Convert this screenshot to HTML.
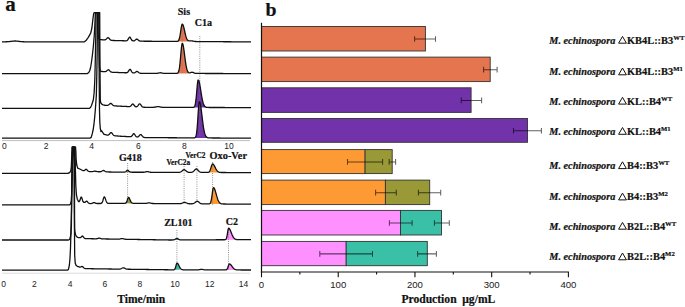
<!DOCTYPE html>
<html><head><meta charset="utf-8"><style>
html,body{margin:0;padding:0;background:#fff;}
svg{display:block;}
</style></head><body>
<svg width="685" height="307" viewBox="0 0 685 307">
<rect width="685" height="307" fill="#fff"/>
<line x1="2" y1="140.6" x2="250" y2="140.6" stroke="#c0c0c0" stroke-width="1"/>
<line x1="2" y1="273.2" x2="250" y2="273.2" stroke="#dadada" stroke-width="1"/>
<polygon points="177.50,41.29 178.00,41.07 178.50,40.58 179.00,39.64 179.50,38.05 180.00,35.67 180.50,32.59 181.00,29.22 181.50,26.23 182.00,24.39 182.50,24.13 183.00,24.86 183.50,26.29 184.00,28.24 184.50,30.46 185.00,32.74 185.50,34.86 186.00,36.69 186.50,38.15 187.00,39.24 187.50,40.00 188.00,40.47 188.50,40.73 188.50,41.51 177.50,41.44" fill="#E4754E"/>
<polygon points="177.50,73.15 178.00,72.76 178.50,71.91 179.00,70.27 179.50,67.50 180.00,63.36 180.50,58.02 181.00,52.17 181.50,46.98 182.00,43.77 182.50,43.33 183.00,44.58 183.50,47.06 184.00,50.44 184.50,54.31 185.00,58.26 185.50,61.95 186.00,65.14 186.50,67.72 187.00,69.67 187.50,71.06 188.00,71.98 188.50,72.52 188.50,73.43 177.50,73.40" fill="#E4754E"/>
<polygon points="194.00,107.13 194.50,106.60 195.00,105.42 195.50,103.16 196.00,99.44 196.50,94.29 197.00,88.40 197.50,83.18 198.00,80.23 198.50,80.13 199.00,81.22 199.50,83.19 200.00,85.82 200.50,88.86 201.00,92.06 201.50,95.17 202.00,98.01 202.50,100.46 203.00,102.46 203.50,104.02 204.00,105.18 204.50,106.01 205.00,106.57 205.50,106.94 206.00,107.17 206.50,107.31 206.50,107.47 194.00,107.44" fill="#7232AA"/>
<polygon points="195.00,137.62 195.50,137.13 196.00,135.98 196.50,133.64 197.00,129.54 197.50,123.44 198.00,115.88 198.50,108.38 199.00,103.05 199.50,101.63 200.00,102.56 200.50,104.72 201.00,107.88 201.50,111.72 202.00,115.90 202.50,120.09 203.00,124.01 203.50,127.46 204.00,130.34 204.50,132.63 205.00,134.37 205.50,135.62 206.00,136.50 206.50,137.07 207.00,137.44 207.50,137.67 207.50,137.95 195.00,137.88" fill="#7232AA"/>
<polygon points="125.50,171.78 126.00,171.40 126.50,170.91 127.00,170.46 127.50,170.23 128.00,170.33 128.50,170.72 129.00,171.21 129.50,171.66 129.80,172.23 125.50,172.22" fill="#999937"/>
<polygon points="126.00,202.89 126.50,202.20 127.00,200.98 127.50,199.38 128.00,197.94 128.50,197.36 129.00,197.69 129.50,198.56 130.00,199.73 130.50,200.91 131.00,201.88 131.50,202.57 131.50,203.38 125.80,203.34" fill="#999937"/>
<polygon points="209.00,171.99 209.50,171.47 210.00,170.58 210.50,169.29 211.00,167.67 211.50,165.98 212.00,164.63 212.50,164.00 213.00,164.09 213.50,164.52 214.00,165.22 214.50,166.12 215.00,167.13 215.50,168.15 216.00,169.12 216.50,169.98 217.00,170.69 217.50,171.25 218.00,171.67 218.50,171.98 218.50,172.50 208.80,172.47" fill="#FE9A33"/>
<polygon points="209.00,203.87 209.50,203.77 210.00,203.48 210.50,202.78 211.00,201.36 211.50,198.94 212.00,195.56 212.50,191.81 213.00,188.80 213.50,187.64 214.00,187.92 214.50,188.73 215.00,189.98 215.50,191.57 216.00,193.34 216.50,195.17 217.00,196.93 217.50,198.53 218.00,199.91 218.50,201.04 219.00,201.93 219.50,202.60 220.00,203.09 220.50,203.42 221.00,203.65 221.50,203.80 221.50,204.00 209.00,203.91" fill="#FE9A33"/>
<polygon points="174.50,239.56 175.00,239.30 175.50,239.00 176.00,238.72 176.50,238.52 177.00,238.47 177.50,238.58 178.00,238.81 178.50,239.11 179.00,239.39 179.50,239.62 179.50,239.95 174.50,239.98" fill="#3BC0A8"/>
<polygon points="174.50,269.51 175.00,268.89 175.50,267.61 176.00,265.69 176.50,263.82 177.00,263.02 177.50,263.23 178.00,263.82 178.50,264.69 179.00,265.70 179.50,266.71 180.00,267.62 180.50,268.36 180.50,269.83 174.30,269.81" fill="#3BC0A8"/>
<polygon points="224.50,239.73 225.00,239.70 225.50,239.58 226.00,239.19 226.50,238.16 227.00,236.12 227.50,233.07 228.00,229.95 228.50,228.26 229.00,228.33 229.50,228.83 230.00,229.65 230.50,230.72 231.00,231.95 231.50,233.24 232.00,234.49 232.50,235.64 233.00,236.64 233.50,237.47 234.00,238.13 234.50,238.63 235.00,238.99 235.50,239.24 236.00,239.41 236.00,239.67 224.50,239.73" fill="#FF90FF"/>
<polygon points="225.50,269.92 226.00,269.86 226.50,269.69 227.00,269.26 227.50,268.41 228.00,267.08 228.50,265.53 229.00,264.30 229.50,263.95 230.00,264.11 230.50,264.46 231.00,264.99 231.50,265.62 232.00,266.31 232.50,267.01 233.00,267.65 233.50,268.23 234.00,268.70 234.50,269.08 235.00,269.37 235.50,269.58 236.00,269.72 236.00,269.96 225.30,269.94" fill="#FF90FF"/>
<line x1="199.8" y1="36" x2="199.8" y2="137" stroke="#777" stroke-width="0.8" stroke-dasharray="1,1.2"/>
<line x1="182.2" y1="26" x2="182.2" y2="73" stroke="#777" stroke-width="0.8" stroke-dasharray="1,1.2"/>
<line x1="127.6" y1="163" x2="127.6" y2="203" stroke="#777" stroke-width="0.8" stroke-dasharray="1,1.2"/>
<line x1="184.1" y1="166" x2="184.1" y2="204" stroke="#777" stroke-width="0.8" stroke-dasharray="1,1.2"/>
<line x1="196.9" y1="166" x2="196.9" y2="203.5" stroke="#777" stroke-width="0.8" stroke-dasharray="1,1.2"/>
<line x1="212.6" y1="162" x2="212.6" y2="205" stroke="#777" stroke-width="0.8" stroke-dasharray="1,1.2"/>
<line x1="176.9" y1="230" x2="176.9" y2="270" stroke="#777" stroke-width="0.8" stroke-dasharray="1,1.2"/>
<line x1="228.5" y1="230" x2="228.5" y2="270" stroke="#777" stroke-width="0.8" stroke-dasharray="1,1.2"/>
<defs><clipPath id="cu"><rect x="0" y="12.0" width="260" height="130"/></clipPath><clipPath id="cl"><rect x="0" y="146.2" width="260" height="130"/></clipPath></defs>
<polyline clip-path="url(#cu)" points="2.00,41.80 2.50,41.80 3.00,41.80 3.50,41.80 4.00,41.79 4.50,41.79 5.00,41.79 5.50,41.78 6.00,41.77 6.50,41.76 7.00,41.74 7.50,41.72 8.00,41.69 8.50,41.66 9.00,41.62 9.50,41.57 10.00,41.51 10.50,41.45 11.00,41.38 11.50,41.31 12.00,41.25 12.50,41.18 13.00,41.12 13.50,41.07 14.00,41.03 14.50,41.01 15.00,41.00 15.50,41.01 16.00,41.03 16.50,41.07 17.00,41.12 17.50,41.18 18.00,41.25 18.50,41.31 19.00,41.38 19.50,41.45 20.00,41.51 20.50,41.57 21.00,41.62 21.50,41.66 22.00,41.69 22.50,41.72 23.00,41.74 23.50,41.76 24.00,41.77 24.50,41.78 25.00,41.79 25.50,41.79 26.00,41.79 26.50,41.80 27.00,41.80 27.50,41.80 28.00,41.80 28.50,41.80 29.00,41.80 29.50,41.80 30.00,41.80 30.50,41.80 31.00,41.80 31.50,41.80 32.00,41.80 32.50,41.80 33.00,41.80 33.50,41.80 34.00,41.80 34.50,41.80 35.00,41.80 35.50,41.80 36.00,41.80 36.50,41.80 37.00,41.80 37.50,41.80 38.00,41.80 38.50,41.80 39.00,41.80 39.50,41.80 40.00,41.80 40.50,41.80 41.00,41.80 41.50,41.80 42.00,41.80 42.50,41.80 43.00,41.80 43.50,41.80 44.00,41.80 44.50,41.80 45.00,41.80 45.50,41.80 46.00,41.80 46.50,41.80 47.00,41.80 47.50,41.80 48.00,41.80 48.50,41.80 49.00,41.80 49.50,41.80 50.00,41.80 50.50,41.80 51.00,41.80 51.50,41.80 52.00,41.80 52.50,41.80 53.00,41.80 53.50,41.80 54.00,41.80 54.50,41.80 55.00,41.80 55.50,41.80 56.00,41.80 56.50,41.80 57.00,41.80 57.50,41.80 58.00,41.80 58.50,41.80 59.00,41.80 59.50,41.80 60.00,41.80 60.50,41.80 61.00,41.80 61.50,41.80 62.00,41.80 62.50,41.80 63.00,41.80 63.50,41.80 64.00,41.80 64.50,41.80 65.00,41.80 65.50,41.80 66.00,41.80 66.50,41.80 67.00,41.80 67.50,41.80 68.00,41.80 68.50,41.80 69.00,41.80 69.50,41.80 70.00,41.80 70.50,41.80 71.00,41.80 71.50,41.80 72.00,41.80 72.50,41.80 73.00,41.80 73.50,41.80 74.00,41.80 74.50,41.80 75.00,41.80 75.50,41.80 76.00,41.80 76.50,41.80 77.00,41.80 77.50,41.80 78.00,41.80 78.50,41.80 79.00,41.80 79.50,41.80 80.00,41.80 80.50,41.80 81.00,41.80 81.50,41.80 82.00,41.80 82.50,41.80 83.00,41.80 83.50,41.80 84.00,41.80 84.50,41.80 86.00,40.60 88.30,37.30 90.70,33.20 91.90,28.00 92.80,20.00 93.60,14.00 94.20,12.60 97.60,12.60 97.80,30.00 98.20,37.50 99.20,39.20 99.50,39.54 100.00,39.58 100.50,39.62 101.00,39.66 101.50,39.70 102.00,39.75 102.50,39.79 103.00,39.83 103.50,39.86 104.00,39.89 104.50,39.89 105.00,39.84 105.50,39.68 106.00,39.37 106.50,38.89 107.00,38.34 107.50,37.86 108.00,37.64 108.50,37.80 109.00,38.27 109.50,38.90 110.00,39.51 110.50,39.94 111.00,40.21 111.50,40.35 112.00,40.42 112.50,40.46 113.00,40.48 113.50,40.49 114.00,40.51 114.50,40.52 115.00,40.53 115.50,40.55 116.00,40.56 116.50,40.57 117.00,40.59 117.50,40.60 118.00,40.61 118.50,40.63 119.00,40.64 119.50,40.65 120.00,40.67 120.50,40.68 121.00,40.69 121.50,40.71 122.00,40.72 122.50,40.73 123.00,40.75 123.50,40.76 124.00,40.77 124.50,40.79 125.00,40.80 125.50,40.81 126.00,40.79 126.50,40.73 127.00,40.55 127.50,40.16 128.00,39.49 128.50,38.59 129.00,37.70 129.50,37.17 130.00,37.25 130.50,37.90 131.00,38.85 131.50,39.74 132.00,40.38 132.50,40.74 133.00,40.90 133.50,40.92 134.00,40.84 134.50,40.63 135.00,40.30 135.50,39.87 136.00,39.44 136.50,39.16 137.00,39.14 137.50,39.40 138.00,39.84 138.50,40.31 139.00,40.70 139.50,40.96 140.00,41.10 140.50,41.17 141.00,41.20 141.50,41.21 142.00,41.21 142.50,41.22 143.00,41.22 143.50,41.22 144.00,41.23 144.50,41.23 145.00,41.23 145.50,41.23 146.00,41.24 146.50,41.24 147.00,41.24 147.50,41.25 148.00,41.25 148.50,41.25 149.00,41.26 149.50,41.26 150.00,41.26 150.50,41.27 151.00,41.27 151.50,41.27 152.00,41.28 152.50,41.28 153.00,41.28 153.50,41.29 154.00,41.29 154.50,41.29 155.00,41.29 155.50,41.30 156.00,41.30 156.50,41.30 157.00,41.31 157.50,41.31 158.00,41.31 158.50,41.32 159.00,41.32 159.50,41.32 160.00,41.33 160.50,41.33 161.00,41.33 161.50,41.34 162.00,41.34 162.50,41.34 163.00,41.35 163.50,41.35 164.00,41.35 164.50,41.35 165.00,41.36 165.50,41.36 166.00,41.36 166.50,41.37 167.00,41.37 167.50,41.37 168.00,41.38 168.50,41.38 169.00,41.38 169.50,41.39 170.00,41.39 170.50,41.39 171.00,41.40 171.50,41.40 172.00,41.40 172.50,41.40 173.00,41.41 173.50,41.41 174.00,41.41 174.50,41.42 175.00,41.42 175.50,41.42 176.00,41.42 176.50,41.41 177.00,41.38 177.50,41.29 178.00,41.07 178.50,40.58 179.00,39.64 179.50,38.05 180.00,35.67 180.50,32.59 181.00,29.22 181.50,26.23 182.00,24.39 182.50,24.13 183.00,24.86 183.50,26.29 184.00,28.24 184.50,30.46 185.00,32.74 185.50,34.86 186.00,36.69 186.50,38.15 187.00,39.24 187.50,40.00 188.00,40.47 188.50,40.73 189.00,40.83 189.50,40.85 190.00,40.83 190.50,40.81 191.00,40.81 191.50,40.84 192.00,40.91 192.50,41.00 193.00,41.11 193.50,41.22 194.00,41.31 194.50,41.39 195.00,41.45 195.50,41.49 196.00,41.52 196.50,41.54 197.00,41.55 197.50,41.56 198.00,41.56 198.50,41.57 199.00,41.57 199.50,41.58 200.00,41.58 200.50,41.58 201.00,41.58 201.50,41.59 202.00,41.59 202.50,41.59 203.00,41.60 203.50,41.60 204.00,41.60 204.50,41.61 205.00,41.61 205.50,41.61 206.00,41.62 206.50,41.62 207.00,41.62 207.50,41.63 208.00,41.63 208.50,41.63 209.00,41.64 209.50,41.64 210.00,41.64 210.50,41.64 211.00,41.65 211.50,41.65 212.00,41.65 212.50,41.66 213.00,41.66 213.50,41.66 214.00,41.67 214.50,41.67 215.00,41.67 215.50,41.68 216.00,41.68 216.50,41.68 217.00,41.69 217.50,41.69 218.00,41.69 218.50,41.70 219.00,41.70 219.50,41.70 220.00,41.70 220.50,41.71 221.00,41.71 221.50,41.71 222.00,41.72 222.50,41.72 223.00,41.72 223.50,41.73 224.00,41.73 224.50,41.73 225.00,41.74 225.50,41.74 226.00,41.74 226.50,41.75 227.00,41.75 227.50,41.75 228.00,41.75 228.50,41.76 229.00,41.76 229.50,41.76 230.00,41.77 230.50,41.77 231.00,41.77 231.50,41.78 232.00,41.78 232.50,41.78 233.00,41.79 233.50,41.79 234.00,41.79 234.50,41.80 235.00,41.80 235.50,41.80 236.00,41.81 236.50,41.81 237.00,41.81 237.50,41.81 238.00,41.82 238.50,41.82 239.00,41.82 239.50,41.83 240.00,41.83 240.50,41.83 241.00,41.84 241.50,41.84 242.00,41.84 242.50,41.85 243.00,41.85 243.50,41.85 244.00,41.86 244.50,41.86 245.00,41.86 245.50,41.87 246.00,41.87 246.50,41.87 247.00,41.87 247.50,41.88 248.00,41.88 248.50,41.88 249.00,41.89 249.50,41.89 250.00,41.89 250.50,41.90 251.00,41.90" fill="none" stroke="#111" stroke-width="1.3" stroke-linejoin="round"/>
<polyline clip-path="url(#cu)" points="2.00,73.60 2.50,73.60 3.00,73.60 3.50,73.60 4.00,73.60 4.50,73.60 5.00,73.60 5.50,73.60 6.00,73.60 6.50,73.60 7.00,73.60 7.50,73.60 8.00,73.60 8.50,73.60 9.00,73.60 9.50,73.60 10.00,73.60 10.50,73.60 11.00,73.60 11.50,73.60 12.00,73.60 12.50,73.60 13.00,73.60 13.50,73.60 14.00,73.60 14.50,73.60 15.00,73.60 15.50,73.60 16.00,73.60 16.50,73.60 17.00,73.60 17.50,73.60 18.00,73.60 18.50,73.60 19.00,73.60 19.50,73.60 20.00,73.60 20.50,73.60 21.00,73.60 21.50,73.60 22.00,73.60 22.50,73.60 23.00,73.60 23.50,73.60 24.00,73.60 24.50,73.60 25.00,73.60 25.50,73.60 26.00,73.60 26.50,73.60 27.00,73.60 27.50,73.60 28.00,73.60 28.50,73.60 29.00,73.60 29.50,73.60 30.00,73.60 30.50,73.60 31.00,73.60 31.50,73.60 32.00,73.60 32.50,73.60 33.00,73.60 33.50,73.60 34.00,73.60 34.50,73.60 35.00,73.60 35.50,73.60 36.00,73.60 36.50,73.60 37.00,73.60 37.50,73.60 38.00,73.60 38.50,73.60 39.00,73.60 39.50,73.60 40.00,73.60 40.50,73.60 41.00,73.60 41.50,73.60 42.00,73.60 42.50,73.60 43.00,73.60 43.50,73.60 44.00,73.60 44.50,73.60 45.00,73.60 45.50,73.60 46.00,73.60 46.50,73.60 47.00,73.60 47.50,73.60 48.00,73.60 48.50,73.60 49.00,73.60 49.50,73.60 50.00,73.60 50.50,73.60 51.00,73.60 51.50,73.60 52.00,73.60 52.50,73.60 53.00,73.60 53.50,73.60 54.00,73.60 54.50,73.60 55.00,73.60 55.50,73.60 56.00,73.60 56.50,73.60 57.00,73.60 57.50,73.60 58.00,73.60 58.50,73.60 59.00,73.60 59.50,73.60 60.00,73.60 60.50,73.60 61.00,73.60 61.50,73.60 62.00,73.60 62.50,73.60 63.00,73.60 63.50,73.60 64.00,73.60 64.50,73.60 65.00,73.60 65.50,73.60 66.00,73.60 66.50,73.60 67.00,73.60 67.50,73.60 68.00,73.60 68.50,73.60 69.00,73.60 69.50,73.60 70.00,73.60 70.50,73.60 71.00,73.60 71.50,73.60 72.00,73.60 72.50,73.60 73.00,73.60 73.50,73.60 74.00,73.60 74.50,73.60 75.00,73.60 75.50,73.60 76.00,73.60 76.50,73.60 77.00,73.60 77.50,73.60 78.00,73.60 78.50,73.60 79.00,73.60 79.50,73.60 80.00,73.60 80.50,73.60 81.00,73.60 81.50,73.60 82.00,73.60 82.50,73.60 83.00,73.60 83.50,73.60 84.00,73.60 84.50,73.60 85.00,73.60 85.50,73.60 86.00,73.60 86.50,73.60 87.00,73.60 87.20,73.60 88.50,72.80 89.60,71.00 90.60,67.50 91.50,62.00 92.40,55.00 93.30,47.00 94.30,35.00 95.00,22.00 95.40,12.60 99.00,12.60 99.20,50.00 99.50,67.00 100.20,70.50 100.50,71.34 101.00,71.39 101.50,71.43 102.00,71.48 102.50,71.52 103.00,71.57 103.50,71.61 104.00,71.65 104.50,71.68 105.00,71.67 105.50,71.60 106.00,71.42 106.50,71.09 107.00,70.64 107.50,70.17 108.00,69.83 108.50,69.77 109.00,70.04 109.50,70.55 110.00,71.12 110.50,71.59 111.00,71.93 111.50,72.12 112.00,72.22 112.50,72.28 113.00,72.31 113.50,72.33 114.00,72.35 114.50,72.36 115.00,72.38 115.50,72.40 116.00,72.42 116.50,72.44 117.00,72.46 117.50,72.47 118.00,72.49 118.50,72.51 119.00,72.53 119.50,72.55 120.00,72.57 120.50,72.58 121.00,72.60 121.50,72.62 122.00,72.64 122.50,72.66 123.00,72.68 123.50,72.69 124.00,72.71 124.50,72.73 125.00,72.75 125.50,72.77 126.00,72.77 126.50,72.75 127.00,72.67 127.50,72.43 128.00,71.96 128.50,71.23 129.00,70.35 129.50,69.61 130.00,69.33 130.50,69.65 131.00,70.43 131.50,71.34 132.00,72.11 132.50,72.61 133.00,72.87 133.50,72.96 134.00,72.94 134.50,72.81 135.00,72.56 135.50,72.21 136.00,71.81 136.50,71.50 137.00,71.39 137.50,71.54 138.00,71.89 138.50,72.32 139.00,72.71 139.50,73.00 140.00,73.17 140.50,73.25 141.00,73.29 141.50,73.30 142.00,73.30 142.50,73.31 143.00,73.31 143.50,73.31 144.00,73.31 144.50,73.31 145.00,73.31 145.50,73.31 146.00,73.32 146.50,73.32 147.00,73.32 147.50,73.32 148.00,73.32 148.50,73.32 149.00,73.32 149.50,73.33 150.00,73.33 150.50,73.33 151.00,73.33 151.50,73.33 152.00,73.33 152.50,73.33 153.00,73.34 153.50,73.34 154.00,73.34 154.50,73.34 155.00,73.34 155.50,73.34 156.00,73.34 156.50,73.32 157.00,73.30 157.50,73.25 158.00,73.18 158.50,73.08 159.00,72.96 159.50,72.85 160.00,72.78 160.50,72.76 161.00,72.80 161.50,72.90 162.00,73.02 162.50,73.14 163.00,73.23 163.50,73.29 164.00,73.33 164.50,73.35 165.00,73.36 165.50,73.37 166.00,73.37 166.50,73.37 167.00,73.37 167.50,73.37 168.00,73.38 168.50,73.38 169.00,73.38 169.50,73.38 170.00,73.38 170.50,73.38 171.00,73.38 171.50,73.39 172.00,73.39 172.50,73.39 173.00,73.39 173.50,73.39 174.00,73.39 174.50,73.39 175.00,73.39 175.50,73.39 176.00,73.39 176.50,73.37 177.00,73.31 177.50,73.15 178.00,72.76 178.50,71.91 179.00,70.27 179.50,67.50 180.00,63.36 180.50,58.02 181.00,52.17 181.50,46.98 182.00,43.77 182.50,43.33 183.00,44.58 183.50,47.06 184.00,50.44 184.50,54.31 185.00,58.26 185.50,61.95 186.00,65.14 186.50,67.72 187.00,69.67 187.50,71.06 188.00,71.98 188.50,72.52 189.00,72.79 189.50,72.85 190.00,72.77 190.50,72.61 191.00,72.43 191.50,72.29 192.00,72.24 192.50,72.30 193.00,72.46 193.50,72.67 194.00,72.90 194.50,73.09 195.00,73.24 195.50,73.34 196.00,73.40 196.50,73.43 197.00,73.44 197.50,73.45 198.00,73.46 198.50,73.46 199.00,73.46 199.50,73.46 200.00,73.46 200.50,73.46 201.00,73.46 201.50,73.47 202.00,73.47 202.50,73.47 203.00,73.47 203.50,73.47 204.00,73.47 204.50,73.47 205.00,73.48 205.50,73.48 206.00,73.48 206.50,73.48 207.00,73.48 207.50,73.48 208.00,73.48 208.50,73.49 209.00,73.49 209.50,73.49 210.00,73.49 210.50,73.49 211.00,73.49 211.50,73.49 212.00,73.49 212.50,73.50 213.00,73.50 213.50,73.50 214.00,73.50 214.50,73.50 215.00,73.50 215.50,73.50 216.00,73.51 216.50,73.51 217.00,73.51 217.50,73.51 218.00,73.51 218.50,73.51 219.00,73.51 219.50,73.51 220.00,73.52 220.50,73.52 221.00,73.52 221.50,73.52 222.00,73.52 222.50,73.52 223.00,73.52 223.50,73.53 224.00,73.53 224.50,73.53 225.00,73.53 225.50,73.53 226.00,73.53 226.50,73.53 227.00,73.54 227.50,73.54 228.00,73.54 228.50,73.54 229.00,73.54 229.50,73.54 230.00,73.54 230.50,73.54 231.00,73.55 231.50,73.55 232.00,73.55 232.50,73.55 233.00,73.55 233.50,73.55 234.00,73.55 234.50,73.56 235.00,73.56 235.50,73.56 236.00,73.56 236.50,73.56 237.00,73.56 237.50,73.56 238.00,73.56 238.50,73.57 239.00,73.57 239.50,73.57 240.00,73.57 240.50,73.57 241.00,73.57 241.50,73.57 242.00,73.58 242.50,73.58 243.00,73.58 243.50,73.58 244.00,73.58 244.50,73.58 245.00,73.58 245.50,73.59 246.00,73.59 246.50,73.59 247.00,73.59 247.50,73.59 248.00,73.59 248.50,73.59 249.00,73.59 249.50,73.60 250.00,73.60 250.50,73.60 251.00,73.60" fill="none" stroke="#111" stroke-width="1.3" stroke-linejoin="round"/>
<polyline clip-path="url(#cu)" points="2.00,108.30 2.50,108.30 3.00,108.30 3.50,108.30 4.00,108.30 4.50,108.30 5.00,108.30 5.50,108.30 6.00,108.30 6.50,108.30 7.00,108.30 7.50,108.30 8.00,108.30 8.50,108.30 9.00,108.30 9.50,108.30 10.00,108.30 10.50,108.30 11.00,108.30 11.50,108.30 12.00,108.30 12.50,108.30 13.00,108.30 13.50,108.30 14.00,108.30 14.50,108.30 15.00,108.30 15.50,108.30 16.00,108.30 16.50,108.30 17.00,108.30 17.50,108.30 18.00,108.30 18.50,108.30 19.00,108.30 19.50,108.30 20.00,108.30 20.50,108.30 21.00,108.30 21.50,108.30 22.00,108.30 22.50,108.30 23.00,108.30 23.50,108.30 24.00,108.30 24.50,108.30 25.00,108.30 25.50,108.30 26.00,108.30 26.50,108.30 27.00,108.30 27.50,108.30 28.00,108.30 28.50,108.30 29.00,108.30 29.50,108.30 30.00,108.30 30.50,108.30 31.00,108.30 31.50,108.30 32.00,108.30 32.50,108.30 33.00,108.30 33.50,108.30 34.00,108.30 34.50,108.30 35.00,108.30 35.50,108.30 36.00,108.30 36.50,108.30 37.00,108.30 37.50,108.30 38.00,108.30 38.50,108.30 39.00,108.30 39.50,108.30 40.00,108.30 40.50,108.30 41.00,108.30 41.50,108.30 42.00,108.30 42.50,108.30 43.00,108.30 43.50,108.30 44.00,108.30 44.50,108.30 45.00,108.30 45.50,108.30 46.00,108.30 46.50,108.30 47.00,108.30 47.50,108.30 48.00,108.30 48.50,108.30 49.00,108.30 49.50,108.30 50.00,108.30 50.50,108.30 51.00,108.30 51.50,108.30 52.00,108.30 52.50,108.30 53.00,108.30 53.50,108.30 54.00,108.30 54.50,108.30 55.00,108.30 55.50,108.30 56.00,108.30 56.50,108.30 57.00,108.30 57.50,108.30 58.00,108.30 58.50,108.30 59.00,108.30 59.50,108.30 60.00,108.30 60.50,108.30 61.00,108.30 61.50,108.30 62.00,108.30 62.50,108.30 63.00,108.30 63.50,108.30 64.00,108.30 64.50,108.30 65.00,108.30 65.50,108.30 66.00,108.30 66.50,108.30 67.00,108.30 67.50,108.30 68.00,108.30 68.50,108.30 69.00,108.30 69.50,108.30 70.00,108.30 70.50,108.30 71.00,108.30 71.50,108.30 72.00,108.30 72.50,108.30 73.00,108.30 73.50,108.30 74.00,108.30 74.50,108.30 75.00,108.30 75.50,108.30 76.00,108.30 76.50,108.30 77.00,108.30 77.50,108.30 78.00,108.30 78.50,108.30 79.00,108.30 79.50,108.30 80.00,108.30 80.50,108.30 81.00,108.30 81.50,108.30 82.00,108.30 82.50,108.30 83.00,108.30 83.50,108.30 84.00,108.30 84.50,108.30 85.00,108.30 85.50,108.30 86.00,108.30 86.50,108.30 87.00,108.30 87.50,108.30 88.00,108.30 88.50,108.30 89.00,108.30 89.50,108.30 90.50,107.50 91.50,105.50 92.50,102.50 93.40,99.50 94.20,92.00 94.80,80.00 95.30,60.00 95.80,35.00 96.10,12.60 99.70,12.60 99.90,50.00 100.10,80.00 100.30,100.00 100.70,102.80 101.80,104.00 102.00,104.40 102.50,104.60 103.00,104.80 103.50,105.00 104.00,105.20 104.50,105.23 105.00,105.26 105.50,105.29 106.00,105.32 106.50,105.35 107.00,105.36 107.50,105.33 108.00,105.22 108.50,105.00 109.00,104.63 109.50,104.15 110.00,103.67 110.50,103.37 111.00,103.36 111.50,103.68 112.00,104.20 112.50,104.75 113.00,105.21 113.50,105.53 114.00,105.71 114.50,105.82 115.00,105.88 115.50,105.92 116.00,105.95 116.50,105.98 117.00,106.01 117.50,106.04 118.00,106.07 118.50,106.11 119.00,106.14 119.50,106.17 120.00,106.20 120.50,106.22 121.00,106.24 121.50,106.27 122.00,106.29 122.50,106.31 123.00,106.33 123.50,106.35 124.00,106.38 124.50,106.40 125.00,106.42 125.50,106.44 126.00,106.46 126.50,106.49 127.00,106.51 127.50,106.53 128.00,106.55 128.50,106.57 129.00,106.58 129.50,106.55 130.00,106.46 130.50,106.22 131.00,105.77 131.50,105.15 132.00,104.49 132.50,104.04 133.00,104.01 133.50,104.43 134.00,105.12 134.50,105.81 135.00,106.33 135.50,106.64 136.00,106.77 136.50,106.74 137.00,106.56 137.50,106.18 138.00,105.59 138.50,104.86 139.00,104.18 139.50,103.80 140.00,103.87 140.50,104.37 141.00,105.12 141.50,105.88 142.00,106.48 142.50,106.87 143.00,107.08 143.50,107.19 144.00,107.24 144.50,107.27 145.00,107.30 145.50,107.30 146.00,107.30 146.50,107.30 147.00,107.31 147.50,107.31 148.00,107.31 148.50,107.31 149.00,107.31 149.50,107.31 150.00,107.31 150.50,107.31 151.00,107.32 151.50,107.31 152.00,107.31 152.50,107.31 153.00,107.29 153.50,107.27 154.00,107.23 154.50,107.18 155.00,107.10 155.50,107.01 156.00,106.91 156.50,106.80 157.00,106.72 157.50,106.66 158.00,106.64 158.50,106.66 159.00,106.72 159.50,106.81 160.00,106.92 160.50,107.02 161.00,107.12 161.50,107.20 162.00,107.25 162.50,107.29 163.00,107.32 163.50,107.34 164.00,107.35 164.50,107.35 165.00,107.36 165.50,107.36 166.00,107.36 166.50,107.36 167.00,107.36 167.50,107.36 168.00,107.37 168.50,107.37 169.00,107.37 169.50,107.37 170.00,107.37 170.50,107.37 171.00,107.37 171.50,107.37 172.00,107.38 172.50,107.38 173.00,107.38 173.50,107.38 174.00,107.38 174.50,107.38 175.00,107.38 175.50,107.39 176.00,107.39 176.50,107.39 177.00,107.39 177.50,107.39 178.00,107.39 178.50,107.39 179.00,107.40 179.50,107.40 180.00,107.40 180.50,107.40 181.00,107.40 181.50,107.40 182.00,107.40 182.50,107.41 183.00,107.41 183.50,107.41 184.00,107.41 184.50,107.41 185.00,107.41 185.50,107.41 186.00,107.42 186.50,107.42 187.00,107.42 187.50,107.42 188.00,107.42 188.50,107.42 189.00,107.42 189.50,107.43 190.00,107.43 190.50,107.43 191.00,107.43 191.50,107.43 192.00,107.43 192.50,107.43 193.00,107.41 193.50,107.34 194.00,107.13 194.50,106.60 195.00,105.42 195.50,103.16 196.00,99.44 196.50,94.29 197.00,88.40 197.50,83.18 198.00,80.23 198.50,80.13 199.00,81.22 199.50,83.19 200.00,85.82 200.50,88.86 201.00,92.06 201.50,95.17 202.00,98.01 202.50,100.46 203.00,102.46 203.50,104.02 204.00,105.18 204.50,106.01 205.00,106.57 205.50,106.94 206.00,107.17 206.50,107.31 207.00,107.39 207.50,107.43 208.00,107.46 208.50,107.47 209.00,107.48 209.50,107.48 210.00,107.48 210.50,107.48 211.00,107.49 211.50,107.49 212.00,107.49 212.50,107.49 213.00,107.49 213.50,107.49 214.00,107.50 214.50,107.50 215.00,107.50 215.50,107.50 216.00,107.50 216.50,107.50 217.00,107.50 217.50,107.51 218.00,107.51 218.50,107.51 219.00,107.51 219.50,107.51 220.00,107.51 220.50,107.51 221.00,107.52 221.50,107.52 222.00,107.52 222.50,107.52 223.00,107.52 223.50,107.52 224.00,107.52 224.50,107.52 225.00,107.53 225.50,107.53 226.00,107.53 226.50,107.53 227.00,107.53 227.50,107.53 228.00,107.53 228.50,107.54 229.00,107.54 229.50,107.54 230.00,107.54 230.50,107.54 231.00,107.54 231.50,107.54 232.00,107.55 232.50,107.55 233.00,107.55 233.50,107.55 234.00,107.55 234.50,107.55 235.00,107.55 235.50,107.56 236.00,107.56 236.50,107.56 237.00,107.56 237.50,107.56 238.00,107.56 238.50,107.56 239.00,107.57 239.50,107.57 240.00,107.57 240.50,107.57 241.00,107.57 241.50,107.57 242.00,107.57 242.50,107.58 243.00,107.58 243.50,107.58 244.00,107.58 244.50,107.58 245.00,107.58 245.50,107.58 246.00,107.59 246.50,107.59 247.00,107.59 247.50,107.59 248.00,107.59 248.50,107.59 249.00,107.59 249.50,107.60 250.00,107.60 250.50,107.60 251.00,107.60" fill="none" stroke="#111" stroke-width="1.3" stroke-linejoin="round"/>
<polyline clip-path="url(#cu)" points="2.00,138.10 2.50,138.10 3.00,138.10 3.50,138.10 4.00,138.10 4.50,138.10 5.00,138.10 5.50,138.10 6.00,138.10 6.50,138.10 7.00,138.10 7.50,138.10 8.00,138.10 8.50,138.10 9.00,138.10 9.50,138.10 10.00,138.10 10.50,138.10 11.00,138.10 11.50,138.10 12.00,138.10 12.50,138.10 13.00,138.10 13.50,138.10 14.00,138.10 14.50,138.10 15.00,138.10 15.50,138.10 16.00,138.10 16.50,138.10 17.00,138.10 17.50,138.10 18.00,138.10 18.50,138.10 19.00,138.10 19.50,138.10 20.00,138.10 20.50,138.10 21.00,138.10 21.50,138.10 22.00,138.10 22.50,138.10 23.00,138.10 23.50,138.10 24.00,138.10 24.50,138.10 25.00,138.10 25.50,138.10 26.00,138.10 26.50,138.10 27.00,138.10 27.50,138.10 28.00,138.10 28.50,138.10 29.00,138.10 29.50,138.10 30.00,138.10 30.50,138.10 31.00,138.10 31.50,138.10 32.00,138.10 32.50,138.10 33.00,138.10 33.50,138.10 34.00,138.10 34.50,138.10 35.00,138.10 35.50,138.10 36.00,138.10 36.50,138.10 37.00,138.10 37.50,138.10 38.00,138.10 38.50,138.10 39.00,138.10 39.50,138.10 40.00,138.10 40.50,138.10 41.00,138.10 41.50,138.10 42.00,138.10 42.50,138.10 43.00,138.10 43.50,138.10 44.00,138.10 44.50,138.10 45.00,138.10 45.50,138.10 46.00,138.10 46.50,138.10 47.00,138.10 47.50,138.10 48.00,138.10 48.50,138.10 49.00,138.10 49.50,138.10 50.00,138.10 50.50,138.10 51.00,138.10 51.50,138.10 52.00,138.10 52.50,138.10 53.00,138.10 53.50,138.10 54.00,138.10 54.50,138.10 55.00,138.10 55.50,138.10 56.00,138.10 56.50,138.10 57.00,138.10 57.50,138.10 58.00,138.10 58.50,138.10 59.00,138.10 59.50,138.10 60.00,138.10 60.50,138.10 61.00,138.10 61.50,138.10 62.00,138.10 62.50,138.10 63.00,138.10 63.50,138.10 64.00,138.10 64.50,138.10 65.00,138.10 65.50,138.10 66.00,138.10 66.50,138.10 67.00,138.10 67.50,138.10 68.00,138.10 68.50,138.10 69.00,138.10 69.50,138.10 70.00,138.10 70.50,138.10 71.00,138.10 71.50,138.10 72.00,138.10 72.50,138.10 73.00,138.10 73.50,138.10 74.00,138.10 74.50,138.10 75.00,138.10 75.50,138.10 76.00,138.10 76.50,138.10 77.00,138.10 77.50,138.10 78.00,138.10 78.50,138.10 79.00,138.10 79.50,138.10 80.00,138.10 80.50,138.10 81.00,138.10 81.50,138.10 82.00,138.10 82.50,138.10 83.00,138.10 83.50,138.10 84.00,138.10 84.50,138.10 85.00,138.10 85.50,138.10 86.00,138.10 86.50,138.10 87.00,138.10 87.50,138.10 88.00,138.10 88.50,138.10 89.00,138.10 89.50,138.10 90.00,138.10 91.20,137.40 92.40,133.20 93.20,129.50 93.90,124.70 94.60,118.00 95.30,110.30 95.80,103.00 96.30,96.00 96.80,75.00 97.20,50.00 97.50,12.60 98.90,12.60 99.00,40.00 99.20,80.00 99.50,110.00 99.80,122.00 100.30,128.50 101.00,131.50 101.50,130.72 102.00,131.43 102.50,132.15 103.00,132.87 103.50,133.58 104.00,134.30 104.50,134.42 105.00,134.55 105.50,134.67 106.00,134.80 106.50,134.92 107.00,135.03 107.50,135.11 108.00,135.13 108.50,134.93 109.00,134.56 109.50,134.01 110.00,133.35 110.50,132.79 111.00,132.53 111.50,132.70 112.00,133.24 112.50,133.96 113.00,134.64 113.50,135.17 114.00,135.50 114.50,135.69 115.00,135.79 115.50,135.85 116.00,135.90 116.50,135.94 117.00,135.97 117.50,136.01 118.00,136.05 118.50,136.09 119.00,136.12 119.50,136.16 120.00,136.20 120.50,136.23 121.00,136.25 121.50,136.28 122.00,136.31 122.50,136.33 123.00,136.36 123.50,136.39 124.00,136.42 124.50,136.44 125.00,136.47 125.50,136.50 126.00,136.52 126.50,136.55 127.00,136.58 127.50,136.60 128.00,136.63 128.50,136.66 129.00,136.68 129.50,136.71 130.00,136.72 130.50,136.69 131.00,136.58 131.50,136.29 132.00,135.77 132.50,135.04 133.00,134.26 133.50,133.73 134.00,133.70 134.50,134.20 135.00,135.01 135.50,135.82 136.00,136.44 136.50,136.81 137.00,136.97 137.50,136.98 138.00,136.84 138.50,136.53 139.00,136.03 139.50,135.42 140.00,134.85 140.50,134.54 141.00,134.60 141.50,135.04 142.00,135.69 142.50,136.34 143.00,136.85 143.50,137.19 144.00,137.38 144.50,137.48 145.00,137.53 145.50,137.57 146.00,137.60 146.50,137.60 147.00,137.61 147.50,137.61 148.00,137.61 148.50,137.61 149.00,137.62 149.50,137.62 150.00,137.62 150.50,137.63 151.00,137.63 151.50,137.63 152.00,137.63 152.50,137.64 153.00,137.64 153.50,137.64 154.00,137.65 154.50,137.65 155.00,137.65 155.50,137.65 156.00,137.66 156.50,137.66 157.00,137.66 157.50,137.67 158.00,137.67 158.50,137.67 159.00,137.67 159.50,137.68 160.00,137.68 160.50,137.68 161.00,137.69 161.50,137.69 162.00,137.69 162.50,137.69 163.00,137.70 163.50,137.70 164.00,137.70 164.50,137.71 165.00,137.71 165.50,137.71 166.00,137.71 166.50,137.72 167.00,137.72 167.50,137.72 168.00,137.73 168.50,137.73 169.00,137.73 169.50,137.73 170.00,137.74 170.50,137.74 171.00,137.74 171.50,137.75 172.00,137.75 172.50,137.75 173.00,137.75 173.50,137.76 174.00,137.76 174.50,137.76 175.00,137.77 175.50,137.77 176.00,137.77 176.50,137.77 177.00,137.78 177.50,137.78 178.00,137.78 178.50,137.79 179.00,137.79 179.50,137.79 180.00,137.79 180.50,137.80 181.00,137.80 181.50,137.80 182.00,137.81 182.50,137.81 183.00,137.81 183.50,137.81 184.00,137.82 184.50,137.82 185.00,137.82 185.50,137.83 186.00,137.83 186.50,137.83 187.00,137.83 187.50,137.84 188.00,137.84 188.50,137.84 189.00,137.85 189.50,137.85 190.00,137.85 190.50,137.85 191.00,137.86 191.50,137.86 192.00,137.86 192.50,137.87 193.00,137.87 193.50,137.87 194.00,137.85 194.50,137.80 195.00,137.62 195.50,137.13 196.00,135.98 196.50,133.64 197.00,129.54 197.50,123.44 198.00,115.88 198.50,108.38 199.00,103.05 199.50,101.63 200.00,102.56 200.50,104.72 201.00,107.88 201.50,111.72 202.00,115.90 202.50,120.09 203.00,124.01 203.50,127.46 204.00,130.34 204.50,132.63 205.00,134.37 205.50,135.62 206.00,136.50 206.50,137.07 207.00,137.44 207.50,137.67 208.00,137.80 208.50,137.88 209.00,137.92 209.50,137.94 210.00,137.96 210.50,137.96 211.00,137.97 211.50,137.97 212.00,137.98 212.50,137.98 213.00,137.98 213.50,137.99 214.00,137.99 214.50,137.99 215.00,137.99 215.50,138.00 216.00,138.00 216.50,138.00 217.00,138.01 217.50,138.01 218.00,138.01 218.50,138.01 219.00,138.02 219.50,138.02 220.00,138.02 220.50,138.03 221.00,138.03 221.50,138.03 222.00,138.03 222.50,138.04 223.00,138.04 223.50,138.04 224.00,138.05 224.50,138.05 225.00,138.05 225.50,138.05 226.00,138.06 226.50,138.06 227.00,138.06 227.50,138.07 228.00,138.07 228.50,138.07 229.00,138.07 229.50,138.08 230.00,138.08 230.50,138.08 231.00,138.09 231.50,138.09 232.00,138.09 232.50,138.09 233.00,138.10 233.50,138.10 234.00,138.10 234.50,138.11 235.00,138.11 235.50,138.11 236.00,138.11 236.50,138.12 237.00,138.12 237.50,138.12 238.00,138.13 238.50,138.13 239.00,138.13 239.50,138.13 240.00,138.14 240.50,138.14 241.00,138.14 241.50,138.15 242.00,138.15 242.50,138.15 243.00,138.15 243.50,138.16 244.00,138.16 244.50,138.16 245.00,138.17 245.50,138.17 246.00,138.17 246.50,138.17 247.00,138.18 247.50,138.18 248.00,138.18 248.50,138.19 249.00,138.19 249.50,138.19 250.00,138.19 250.50,138.20 251.00,138.20" fill="none" stroke="#111" stroke-width="1.3" stroke-linejoin="round"/>
<polyline clip-path="url(#cl)" points="2.00,173.30 2.50,173.30 3.00,173.30 3.50,173.30 4.00,173.30 4.50,173.30 5.00,173.30 5.50,173.30 6.00,173.30 6.50,173.30 7.00,173.30 7.50,173.30 8.00,173.30 8.50,173.30 9.00,173.30 9.50,173.30 10.00,173.30 10.50,173.30 11.00,173.30 11.50,173.30 12.00,173.30 12.50,173.30 13.00,173.30 13.50,173.30 14.00,173.30 14.50,173.30 15.00,173.30 15.50,173.30 16.00,173.30 16.50,173.30 17.00,173.30 17.50,173.30 18.00,173.30 18.50,173.30 19.00,173.30 19.50,173.30 20.00,173.30 20.50,173.30 21.00,173.30 21.50,173.30 22.00,173.30 22.50,173.30 23.00,173.30 23.50,173.30 24.00,173.30 24.50,173.30 25.00,173.30 25.50,173.30 26.00,173.30 26.50,173.30 27.00,173.30 27.50,173.30 28.00,173.30 28.50,173.30 29.00,173.30 29.50,173.30 30.00,173.30 30.50,173.30 31.00,173.30 31.50,173.30 32.00,173.30 32.50,173.30 33.00,173.30 33.50,173.30 34.00,173.30 34.50,173.30 35.00,173.30 35.50,173.30 36.00,173.30 36.50,173.30 37.00,173.30 37.50,173.30 38.00,173.30 38.50,173.30 39.00,173.30 39.50,173.30 40.00,173.30 40.50,173.30 41.00,173.30 41.50,173.30 42.00,173.30 42.50,173.30 43.00,173.30 43.50,173.30 44.00,173.30 44.50,173.30 45.00,173.30 45.50,173.30 46.00,173.30 46.50,173.30 47.00,173.30 47.50,173.30 48.00,173.30 48.50,173.30 49.00,173.30 49.50,173.30 50.00,173.30 50.50,173.30 51.00,173.30 51.50,173.30 52.00,173.30 52.50,173.30 53.00,173.30 53.50,173.30 54.00,173.30 54.50,173.30 55.00,173.30 55.50,173.30 56.00,173.30 56.50,173.30 57.00,173.30 57.50,173.30 58.00,173.30 58.50,173.30 59.00,173.30 59.50,173.30 60.00,173.30 60.50,173.30 61.00,173.30 61.50,173.30 62.00,173.30 62.50,173.30 63.00,173.30 63.50,173.30 64.00,173.30 64.50,173.30 65.00,173.30 65.50,173.30 66.00,173.30 66.50,173.30 67.00,173.30 67.50,173.30 69.00,173.00 70.00,172.20 70.80,170.50 71.30,167.00 71.60,160.00 72.00,146.80 75.50,146.80 75.90,152.00 76.10,158.80 76.70,164.70 77.70,168.10 79.80,169.00 82.60,170.50 83.00,170.65 83.50,170.68 84.00,170.63 84.50,170.42 85.00,170.02 85.50,169.53 86.00,169.22 86.50,169.34 87.00,169.85 87.50,170.48 88.00,171.00 88.50,171.31 89.00,171.48 89.50,171.58 90.00,171.60 90.50,171.61 91.00,171.61 91.50,171.60 92.00,171.58 92.50,171.53 93.00,171.46 93.50,171.37 94.00,171.29 94.50,171.22 95.00,171.21 95.50,171.24 96.00,171.33 96.50,171.43 97.00,171.54 97.50,171.63 98.00,171.70 98.50,171.74 99.00,171.77 99.50,171.77 100.00,171.76 100.50,171.70 101.00,171.57 101.50,171.35 102.00,171.06 102.50,170.75 103.00,170.53 103.50,170.48 104.00,170.63 104.50,170.92 105.00,171.25 105.50,171.53 106.00,171.73 106.50,171.85 107.00,171.91 107.50,171.94 108.00,171.96 108.50,171.97 109.00,171.98 109.50,171.99 110.00,172.00 110.50,172.01 111.00,172.02 111.50,172.03 112.00,172.04 112.50,172.05 113.00,172.06 113.50,172.07 114.00,172.08 114.50,172.09 115.00,172.10 115.50,172.11 116.00,172.12 116.50,172.13 117.00,172.14 117.50,172.15 118.00,172.16 118.50,172.17 119.00,172.18 119.50,172.19 120.00,172.20 120.50,172.20 121.00,172.20 121.50,172.20 122.00,172.21 122.50,172.21 123.00,172.21 123.50,172.20 124.00,172.19 124.50,172.14 125.00,172.02 125.50,171.78 126.00,171.40 126.50,170.91 127.00,170.46 127.50,170.23 128.00,170.33 128.50,170.72 129.00,171.21 129.50,171.66 130.00,171.96 130.50,172.12 131.00,172.20 131.50,172.22 132.00,172.23 132.50,172.24 133.00,172.24 133.50,172.24 134.00,172.24 134.50,172.24 135.00,172.25 135.50,172.25 136.00,172.25 136.50,172.25 137.00,172.25 137.50,172.25 138.00,172.25 138.50,172.26 139.00,172.26 139.50,172.26 140.00,172.26 140.50,172.26 141.00,172.26 141.50,172.27 142.00,172.27 142.50,172.26 143.00,172.26 143.50,172.24 144.00,172.20 144.50,172.14 145.00,172.04 145.50,171.91 146.00,171.77 146.50,171.65 147.00,171.59 147.50,171.60 148.00,171.68 148.50,171.81 149.00,171.95 149.50,172.07 150.00,172.17 150.50,172.23 151.00,172.27 151.50,172.28 152.00,172.29 152.50,172.30 153.00,172.30 153.50,172.30 154.00,172.30 154.50,172.31 155.00,172.31 155.50,172.31 156.00,172.31 156.50,172.31 157.00,172.31 157.50,172.31 158.00,172.32 158.50,172.32 159.00,172.32 159.50,172.32 160.00,172.32 160.50,172.32 161.00,172.33 161.50,172.33 162.00,172.33 162.50,172.33 163.00,172.33 163.50,172.33 164.00,172.33 164.50,172.34 165.00,172.34 165.50,172.34 166.00,172.34 166.50,172.34 167.00,172.34 167.50,172.35 168.00,172.35 168.50,172.35 169.00,172.35 169.50,172.35 170.00,172.35 170.50,172.35 171.00,172.36 171.50,172.36 172.00,172.36 172.50,172.36 173.00,172.36 173.50,172.36 174.00,172.36 174.50,172.37 175.00,172.37 175.50,172.37 176.00,172.37 176.50,172.37 177.00,172.37 177.50,172.37 178.00,172.37 178.50,172.36 179.00,172.33 179.50,172.28 180.00,172.18 180.50,172.02 181.00,171.77 181.50,171.44 182.00,171.02 182.50,170.57 183.00,170.15 183.50,169.84 184.00,169.70 184.50,169.76 185.00,170.02 185.50,170.40 186.00,170.85 186.50,171.29 187.00,171.67 187.50,171.95 188.00,172.15 188.50,172.27 189.00,172.34 189.50,172.38 190.00,172.39 190.50,172.39 191.00,172.37 191.50,172.32 192.00,172.22 192.50,172.04 193.00,171.77 193.50,171.38 194.00,170.88 194.50,170.30 195.00,169.73 195.50,169.26 196.00,168.98 196.50,168.96 197.00,169.19 197.50,169.63 198.00,170.20 198.50,170.78 199.00,171.30 199.50,171.72 200.00,172.02 200.50,172.22 201.00,172.33 201.50,172.39 202.00,172.43 202.50,172.44 203.00,172.45 203.50,172.45 204.00,172.46 204.50,172.46 205.00,172.46 205.50,172.46 206.00,172.46 206.50,172.46 207.00,172.46 207.50,172.44 208.00,172.39 208.50,172.27 209.00,171.99 209.50,171.47 210.00,170.58 210.50,169.29 211.00,167.67 211.50,165.98 212.00,164.63 212.50,164.00 213.00,164.09 213.50,164.52 214.00,165.22 214.50,166.12 215.00,167.13 215.50,168.15 216.00,169.12 216.50,169.98 217.00,170.69 217.50,171.25 218.00,171.67 218.50,171.98 219.00,172.18 219.50,172.32 220.00,172.40 220.50,172.45 221.00,172.48 221.50,172.49 222.00,172.50 222.50,172.51 223.00,172.51 223.50,172.52 224.00,172.52 224.50,172.52 225.00,172.52 225.50,172.52 226.00,172.52 226.50,172.53 227.00,172.53 227.50,172.53 228.00,172.53 228.50,172.53 229.00,172.53 229.50,172.53 230.00,172.54 230.50,172.54 231.00,172.54 231.50,172.54 232.00,172.54 232.50,172.54 233.00,172.55 233.50,172.55 234.00,172.55 234.50,172.55 235.00,172.55 235.50,172.55 236.00,172.55 236.50,172.56 237.00,172.56 237.50,172.56 238.00,172.56 238.50,172.56 239.00,172.56 239.50,172.56 240.00,172.57 240.50,172.57 241.00,172.57 241.50,172.57 242.00,172.57 242.50,172.57 243.00,172.58 243.50,172.58 244.00,172.58 244.50,172.58 245.00,172.58 245.50,172.58 246.00,172.58 246.50,172.59 247.00,172.59 247.50,172.59 248.00,172.59 248.50,172.59 249.00,172.59 249.50,172.60 250.00,172.60 250.50,172.60 251.00,172.60" fill="none" stroke="#111" stroke-width="1.3" stroke-linejoin="round"/>
<polyline clip-path="url(#cl)" points="2.00,204.90 2.50,204.90 3.00,204.90 3.50,204.90 4.00,204.90 4.50,204.90 5.00,204.90 5.50,204.90 6.00,204.90 6.50,204.90 7.00,204.90 7.50,204.90 8.00,204.90 8.50,204.90 9.00,204.90 9.50,204.90 10.00,204.90 10.50,204.90 11.00,204.90 11.50,204.90 12.00,204.90 12.50,204.90 13.00,204.90 13.50,204.90 14.00,204.90 14.50,204.90 15.00,204.90 15.50,204.90 16.00,204.90 16.50,204.90 17.00,204.90 17.50,204.90 18.00,204.90 18.50,204.90 19.00,204.90 19.50,204.90 20.00,204.90 20.50,204.90 21.00,204.90 21.50,204.90 22.00,204.90 22.50,204.90 23.00,204.90 23.50,204.90 24.00,204.90 24.50,204.90 25.00,204.90 25.50,204.90 26.00,204.90 26.50,204.90 27.00,204.90 27.50,204.90 28.00,204.90 28.50,204.90 29.00,204.90 29.50,204.90 30.00,204.90 30.50,204.90 31.00,204.90 31.50,204.90 32.00,204.90 32.50,204.90 33.00,204.90 33.50,204.90 34.00,204.90 34.50,204.90 35.00,204.90 35.50,204.90 36.00,204.90 36.50,204.90 37.00,204.90 37.50,204.90 38.00,204.90 38.50,204.90 39.00,204.90 39.50,204.90 40.00,204.90 40.50,204.90 41.00,204.90 41.50,204.90 42.00,204.90 42.50,204.90 43.00,204.90 43.50,204.90 44.00,204.90 44.50,204.90 45.00,204.90 45.50,204.90 46.00,204.90 46.50,204.90 47.00,204.90 47.50,204.90 48.00,204.90 48.50,204.90 49.00,204.90 49.50,204.90 50.00,204.90 50.50,204.90 51.00,204.90 51.50,204.90 52.00,204.90 52.50,204.90 53.00,204.90 53.50,204.90 54.00,204.90 54.50,204.90 55.00,204.90 55.50,204.90 56.00,204.90 56.50,204.90 57.00,204.90 57.50,204.90 58.00,204.90 58.50,204.90 59.00,204.90 59.50,204.90 60.00,204.90 60.50,204.90 61.00,204.90 61.50,204.90 62.00,204.90 62.50,204.90 63.00,204.90 63.50,204.90 64.00,204.90 64.50,204.90 65.00,204.90 65.50,204.90 66.00,204.90 66.50,204.90 67.00,204.90 67.50,204.90 68.00,204.90 68.50,204.90 69.00,204.90 69.50,204.90 70.50,204.00 71.20,201.00 71.60,195.00 72.00,180.00 72.30,160.00 72.60,146.80 75.00,146.80 75.40,170.00 75.80,185.00 76.40,194.60 77.30,199.20 78.60,201.60 79.00,201.65 79.50,201.21 80.00,200.15 80.50,198.54 81.00,197.19 81.50,197.10 82.00,198.40 82.50,200.17 83.00,201.49 83.50,202.16 84.00,202.40 84.50,202.42 85.00,202.26 85.50,201.90 86.00,201.46 86.50,201.19 87.00,201.33 87.50,201.83 88.00,202.46 88.50,202.97 89.00,203.29 89.50,203.47 90.00,203.59 90.50,203.58 91.00,203.55 91.50,203.47 92.00,203.33 92.50,203.12 93.00,202.86 93.50,202.65 94.00,202.56 94.50,202.64 95.00,202.84 95.50,203.09 96.00,203.29 96.50,203.42 97.00,203.49 97.50,203.51 98.00,203.52 98.50,203.51 99.00,203.51 99.50,203.50 100.00,203.50 100.50,203.48 101.00,203.42 101.50,203.23 102.00,202.74 102.50,201.74 103.00,200.19 103.50,198.40 104.00,197.10 104.50,196.93 105.00,197.74 105.50,199.13 106.00,200.63 106.50,201.86 107.00,202.67 107.50,203.11 108.00,203.31 108.50,203.38 109.00,203.40 109.50,203.40 110.00,203.40 110.50,203.39 111.00,203.39 111.50,203.38 112.00,203.38 112.50,203.37 113.00,203.37 113.50,203.36 114.00,203.36 114.50,203.35 115.00,203.35 115.50,203.34 116.00,203.34 116.50,203.34 117.00,203.33 117.50,203.33 118.00,203.32 118.50,203.31 119.00,203.31 119.50,203.30 120.00,203.30 120.50,203.30 121.00,203.31 121.50,203.31 122.00,203.31 122.50,203.32 123.00,203.32 123.50,203.32 124.00,203.33 124.50,203.32 125.00,203.30 125.50,203.19 126.00,202.89 126.50,202.20 127.00,200.98 127.50,199.38 128.00,197.94 128.50,197.36 129.00,197.69 129.50,198.56 130.00,199.73 130.50,200.91 131.00,201.88 131.50,202.57 132.00,202.99 132.50,203.21 133.00,203.32 133.50,203.37 134.00,203.39 134.50,203.40 135.00,203.40 135.50,203.41 136.00,203.41 136.50,203.41 137.00,203.42 137.50,203.42 138.00,203.42 138.50,203.43 139.00,203.43 139.50,203.43 140.00,203.44 140.50,203.44 141.00,203.44 141.50,203.45 142.00,203.45 142.50,203.45 143.00,203.46 143.50,203.46 144.00,203.46 144.50,203.46 145.00,203.45 145.50,203.43 146.00,203.38 146.50,203.31 147.00,203.20 147.50,203.06 148.00,202.93 148.50,202.83 149.00,202.80 149.50,202.84 150.00,202.95 150.50,203.08 151.00,203.23 151.50,203.34 152.00,203.43 152.50,203.48 153.00,203.51 153.50,203.52 154.00,203.53 154.50,203.54 155.00,203.54 155.50,203.54 156.00,203.55 156.50,203.55 157.00,203.55 157.50,203.56 158.00,203.56 158.50,203.56 159.00,203.57 159.50,203.57 160.00,203.57 160.50,203.58 161.00,203.58 161.50,203.59 162.00,203.59 162.50,203.59 163.00,203.60 163.50,203.60 164.00,203.60 164.50,203.61 165.00,203.61 165.50,203.61 166.00,203.62 166.50,203.62 167.00,203.62 167.50,203.63 168.00,203.63 168.50,203.63 169.00,203.64 169.50,203.64 170.00,203.64 170.50,203.65 171.00,203.65 171.50,203.65 172.00,203.66 172.50,203.66 173.00,203.66 173.50,203.67 174.00,203.67 174.50,203.67 175.00,203.68 175.50,203.68 176.00,203.68 176.50,203.69 177.00,203.69 177.50,203.69 178.00,203.70 178.50,203.70 179.00,203.69 179.50,203.68 180.00,203.65 180.50,203.60 181.00,203.51 181.50,203.37 182.00,203.19 182.50,202.97 183.00,202.74 183.50,202.54 184.00,202.39 184.50,202.34 185.00,202.40 185.50,202.55 186.00,202.76 186.50,203.00 187.00,203.23 187.50,203.41 188.00,203.56 188.50,203.65 189.00,203.71 189.50,203.75 190.00,203.77 190.50,203.78 191.00,203.78 191.50,203.77 192.00,203.75 192.50,203.71 193.00,203.63 193.50,203.49 194.00,203.27 194.50,202.97 195.00,202.58 195.50,202.15 196.00,201.74 196.50,201.41 197.00,201.25 197.50,201.27 198.00,201.48 198.50,201.84 199.00,202.27 199.50,202.70 200.00,203.07 200.50,203.37 201.00,203.58 201.50,203.71 202.00,203.79 202.50,203.83 203.00,203.86 203.50,203.87 204.00,203.88 204.50,203.88 205.00,203.88 205.50,203.89 206.00,203.89 206.50,203.89 207.00,203.90 207.50,203.90 208.00,203.90 208.50,203.90 209.00,203.87 209.50,203.77 210.00,203.48 210.50,202.78 211.00,201.36 211.50,198.94 212.00,195.56 212.50,191.81 213.00,188.80 213.50,187.64 214.00,187.92 214.50,188.73 215.00,189.98 215.50,191.57 216.00,193.34 216.50,195.17 217.00,196.93 217.50,198.53 218.00,199.91 218.50,201.04 219.00,201.93 219.50,202.60 220.00,203.09 220.50,203.42 221.00,203.65 221.50,203.80 222.00,203.89 222.50,203.94 223.00,203.97 223.50,203.99 224.00,204.01 224.50,204.01 225.00,204.02 225.50,204.02 226.00,204.03 226.50,204.03 227.00,204.04 227.50,204.04 228.00,204.04 228.50,204.05 229.00,204.05 229.50,204.05 230.00,204.06 230.50,204.06 231.00,204.06 231.50,204.07 232.00,204.07 232.50,204.07 233.00,204.08 233.50,204.08 234.00,204.08 234.50,204.09 235.00,204.09 235.50,204.09 236.00,204.10 236.50,204.10 237.00,204.10 237.50,204.11 238.00,204.11 238.50,204.11 239.00,204.12 239.50,204.12 240.00,204.12 240.50,204.13 241.00,204.13 241.50,204.13 242.00,204.14 242.50,204.14 243.00,204.15 243.50,204.15 244.00,204.15 244.50,204.16 245.00,204.16 245.50,204.16 246.00,204.17 246.50,204.17 247.00,204.17 247.50,204.18 248.00,204.18 248.50,204.18 249.00,204.19 249.50,204.19 250.00,204.19 250.50,204.20 251.00,204.20" fill="none" stroke="#111" stroke-width="1.3" stroke-linejoin="round"/>
<polyline clip-path="url(#cl)" points="2.00,240.00 2.50,240.00 3.00,240.00 3.50,240.00 4.00,240.00 4.50,240.00 5.00,240.00 5.50,240.00 6.00,240.00 6.50,240.00 7.00,240.00 7.50,240.00 8.00,240.00 8.50,240.00 9.00,240.00 9.50,240.00 10.00,240.00 10.50,240.00 11.00,240.00 11.50,240.00 12.00,240.00 12.50,240.00 13.00,240.00 13.50,240.00 14.00,240.00 14.50,240.00 15.00,240.00 15.50,240.00 16.00,240.00 16.50,240.00 17.00,240.00 17.50,240.00 18.00,240.00 18.50,240.00 19.00,240.00 19.50,240.00 20.00,240.00 20.50,240.00 21.00,240.00 21.50,240.00 22.00,240.00 22.50,240.00 23.00,240.00 23.50,240.00 24.00,240.00 24.50,240.00 25.00,240.00 25.50,240.00 26.00,240.00 26.50,240.00 27.00,240.00 27.50,240.00 28.00,240.00 28.50,240.00 29.00,240.00 29.50,240.00 30.00,240.00 30.50,240.00 31.00,240.00 31.50,240.00 32.00,240.00 32.50,240.00 33.00,240.00 33.50,240.00 34.00,240.00 34.50,240.00 35.00,240.00 35.50,240.00 36.00,240.00 36.50,240.00 37.00,240.00 37.50,240.00 38.00,240.00 38.50,240.00 39.00,240.00 39.50,240.00 40.00,240.00 40.50,240.00 41.00,240.00 41.50,240.00 42.00,240.00 42.50,240.00 43.00,240.00 43.50,240.00 44.00,240.00 44.50,240.00 45.00,240.00 45.50,240.00 46.00,240.00 46.50,240.00 47.00,240.00 47.50,240.00 48.00,240.00 48.50,240.00 49.00,240.00 49.50,240.00 50.00,240.00 50.50,240.00 51.00,240.00 51.50,240.00 52.00,240.00 52.50,240.00 53.00,240.00 53.50,240.00 54.00,240.00 54.50,240.00 55.00,240.00 55.50,240.00 56.00,240.00 56.50,240.00 57.00,240.00 57.50,240.00 58.00,240.00 58.50,240.00 59.00,240.00 59.50,240.00 60.00,240.00 60.50,240.00 61.00,240.00 61.50,240.00 62.00,240.00 62.50,240.00 63.00,240.00 63.50,240.00 64.00,240.00 64.50,240.00 65.00,240.00 65.50,240.00 66.00,240.00 66.50,240.00 67.00,240.00 67.50,240.00 68.00,240.00 68.50,240.00 69.60,239.50 70.30,237.50 71.00,233.00 71.40,225.00 71.70,195.00 72.20,160.00 72.80,146.80 74.40,146.80 74.50,190.00 74.60,228.00 75.00,232.50 75.70,235.00 76.40,236.40 77.50,237.30 78.00,237.48 78.50,237.56 79.00,237.64 79.50,237.70 80.00,237.70 80.50,237.58 81.00,237.25 81.50,236.71 82.00,236.18 82.50,236.00 83.00,236.34 83.50,237.03 84.00,237.73 84.50,238.22 85.00,238.50 85.50,238.59 86.00,238.62 86.50,238.63 87.00,238.64 87.50,238.65 88.00,238.66 88.50,238.67 89.00,238.68 89.50,238.69 90.00,238.70 90.50,238.71 91.00,238.72 91.50,238.73 92.00,238.74 92.50,238.75 93.00,238.76 93.50,238.77 94.00,238.78 94.50,238.79 95.00,238.80 95.50,238.80 96.00,238.78 96.50,238.74 97.00,238.66 97.50,238.54 98.00,238.39 98.50,238.25 99.00,238.17 99.50,238.19 100.00,238.30 100.50,238.46 101.00,238.63 101.50,238.76 102.00,238.84 102.50,238.89 103.00,238.92 103.50,238.93 104.00,238.94 104.50,238.95 105.00,238.96 105.50,238.97 106.00,238.98 106.50,238.98 107.00,238.99 107.50,239.00 108.00,239.01 108.50,239.02 109.00,239.02 109.50,239.03 110.00,239.04 110.50,239.05 111.00,239.06 111.50,239.06 112.00,239.07 112.50,239.08 113.00,239.09 113.50,239.10 114.00,239.10 114.50,239.11 115.00,239.12 115.50,239.13 116.00,239.14 116.50,239.14 117.00,239.15 117.50,239.15 118.00,239.15 118.50,239.13 119.00,239.09 119.50,239.02 120.00,238.91 120.50,238.78 121.00,238.66 121.50,238.56 122.00,238.53 122.50,238.58 123.00,238.69 123.50,238.83 124.00,238.98 124.50,239.10 125.00,239.19 125.50,239.24 126.00,239.28 126.50,239.30 127.00,239.31 127.50,239.32 128.00,239.33 128.50,239.34 129.00,239.34 129.50,239.35 130.00,239.36 130.50,239.37 131.00,239.38 131.50,239.38 132.00,239.39 132.50,239.40 133.00,239.41 133.50,239.42 134.00,239.42 134.50,239.43 135.00,239.44 135.50,239.45 136.00,239.46 136.50,239.46 137.00,239.47 137.50,239.48 138.00,239.49 138.50,239.50 139.00,239.50 139.50,239.51 140.00,239.52 140.50,239.53 141.00,239.54 141.50,239.54 142.00,239.55 142.50,239.56 143.00,239.57 143.50,239.58 144.00,239.58 144.50,239.59 145.00,239.60 145.50,239.61 146.00,239.62 146.50,239.62 147.00,239.63 147.50,239.64 148.00,239.65 148.50,239.66 149.00,239.66 149.50,239.67 150.00,239.68 150.50,239.69 151.00,239.70 151.50,239.70 152.00,239.71 152.50,239.72 153.00,239.73 153.50,239.74 154.00,239.74 154.50,239.75 155.00,239.76 155.50,239.77 156.00,239.78 156.50,239.78 157.00,239.79 157.50,239.80 158.00,239.81 158.50,239.82 159.00,239.82 159.50,239.83 160.00,239.84 160.50,239.85 161.00,239.86 161.50,239.86 162.00,239.87 162.50,239.88 163.00,239.89 163.50,239.90 164.00,239.90 164.50,239.91 165.00,239.92 165.50,239.93 166.00,239.94 166.50,239.94 167.00,239.95 167.50,239.96 168.00,239.97 168.50,239.98 169.00,239.98 169.50,239.99 170.00,240.00 170.50,240.00 171.00,239.99 171.50,239.99 172.00,239.98 172.50,239.97 173.00,239.93 173.50,239.87 174.00,239.75 174.50,239.56 175.00,239.30 175.50,239.00 176.00,238.72 176.50,238.52 177.00,238.47 177.50,238.58 178.00,238.81 178.50,239.11 179.00,239.39 179.50,239.62 180.00,239.77 180.50,239.86 181.00,239.91 181.50,239.93 182.00,239.94 182.50,239.94 183.00,239.94 183.50,239.93 184.00,239.93 184.50,239.93 185.00,239.93 185.50,239.92 186.00,239.92 186.50,239.92 187.00,239.92 187.50,239.91 188.00,239.91 188.50,239.91 189.00,239.91 189.50,239.90 190.00,239.90 190.50,239.90 191.00,239.90 191.50,239.89 192.00,239.89 192.50,239.89 193.00,239.89 193.50,239.88 194.00,239.88 194.50,239.88 195.00,239.88 195.50,239.87 196.00,239.87 196.50,239.87 197.00,239.87 197.50,239.86 198.00,239.86 198.50,239.86 199.00,239.86 199.50,239.85 200.00,239.85 200.50,239.85 201.00,239.85 201.50,239.84 202.00,239.84 202.50,239.84 203.00,239.84 203.50,239.83 204.00,239.83 204.50,239.83 205.00,239.83 205.50,239.82 206.00,239.82 206.50,239.82 207.00,239.82 207.50,239.81 208.00,239.81 208.50,239.81 209.00,239.81 209.50,239.80 210.00,239.80 210.50,239.80 211.00,239.80 211.50,239.80 212.00,239.79 212.50,239.79 213.00,239.79 213.50,239.79 214.00,239.78 214.50,239.78 215.00,239.78 215.50,239.78 216.00,239.77 216.50,239.77 217.00,239.77 217.50,239.77 218.00,239.76 218.50,239.76 219.00,239.76 219.50,239.76 220.00,239.75 220.50,239.75 221.00,239.75 221.50,239.75 222.00,239.74 222.50,239.74 223.00,239.74 223.50,239.74 224.00,239.73 224.50,239.73 225.00,239.70 225.50,239.58 226.00,239.19 226.50,238.16 227.00,236.12 227.50,233.07 228.00,229.95 228.50,228.26 229.00,228.33 229.50,228.83 230.00,229.65 230.50,230.72 231.00,231.95 231.50,233.24 232.00,234.49 232.50,235.64 233.00,236.64 233.50,237.47 234.00,238.13 234.50,238.63 235.00,238.99 235.50,239.24 236.00,239.41 236.50,239.51 237.00,239.58 237.50,239.62 238.00,239.64 238.50,239.65 239.00,239.65 239.50,239.65 240.00,239.65 240.50,239.65 241.00,239.65 241.50,239.65 242.00,239.64 242.50,239.64 243.00,239.64 243.50,239.64 244.00,239.63 244.50,239.63 245.00,239.63 245.50,239.63 246.00,239.62 246.50,239.62 247.00,239.62 247.50,239.62 248.00,239.61 248.50,239.61 249.00,239.61 249.50,239.61 250.00,239.60 250.50,239.60 251.00,239.60" fill="none" stroke="#111" stroke-width="1.3" stroke-linejoin="round"/>
<polyline clip-path="url(#cl)" points="2.00,270.20 2.50,270.20 3.00,270.20 3.50,270.20 4.00,270.20 4.50,270.20 5.00,270.20 5.50,270.20 6.00,270.20 6.50,270.20 7.00,270.20 7.50,270.20 8.00,270.20 8.50,270.20 9.00,270.20 9.50,270.20 10.00,270.20 10.50,270.20 11.00,270.20 11.50,270.20 12.00,270.20 12.50,270.20 13.00,270.20 13.50,270.20 14.00,270.20 14.50,270.20 15.00,270.20 15.50,270.20 16.00,270.20 16.50,270.20 17.00,270.20 17.50,270.20 18.00,270.20 18.50,270.20 19.00,270.20 19.50,270.20 20.00,270.20 20.50,270.20 21.00,270.20 21.50,270.20 22.00,270.20 22.50,270.20 23.00,270.20 23.50,270.20 24.00,270.20 24.50,270.20 25.00,270.20 25.50,270.20 26.00,270.20 26.50,270.20 27.00,270.20 27.50,270.20 28.00,270.20 28.50,270.20 29.00,270.20 29.50,270.20 30.00,270.20 30.50,270.20 31.00,270.20 31.50,270.20 32.00,270.20 32.50,270.20 33.00,270.20 33.50,270.20 34.00,270.20 34.50,270.20 35.00,270.20 35.50,270.20 36.00,270.20 36.50,270.20 37.00,270.20 37.50,270.20 38.00,270.20 38.50,270.20 39.00,270.20 39.50,270.20 40.00,270.20 40.50,270.20 41.00,270.20 41.50,270.20 42.00,270.20 42.50,270.20 43.00,270.20 43.50,270.20 44.00,270.20 44.50,270.20 45.00,270.20 45.50,270.20 46.00,270.20 46.50,270.20 47.00,270.20 47.50,270.20 48.00,270.20 48.50,270.20 49.00,270.20 49.50,270.20 50.00,270.20 50.50,270.20 51.00,270.20 51.50,270.20 52.00,270.20 52.50,270.20 53.00,270.20 53.50,270.20 54.00,270.20 54.50,270.20 55.00,270.20 55.50,270.20 56.00,270.20 56.50,270.20 57.00,270.20 57.50,270.20 58.00,270.20 58.50,270.20 59.00,270.20 59.50,270.20 60.00,270.20 60.50,270.20 61.00,270.20 61.50,270.20 62.00,270.20 62.50,270.20 63.00,270.20 63.50,270.20 64.00,270.20 64.50,270.20 65.00,270.20 65.50,270.20 66.00,270.20 66.50,270.20 67.00,270.20 67.50,270.20 68.50,269.20 69.40,265.00 70.00,258.00 70.50,248.00 70.90,234.00 71.50,210.00 72.20,170.00 73.00,146.80 74.00,146.80 74.30,210.00 74.70,255.00 75.20,263.00 76.00,265.30 77.30,266.30 77.50,266.37 78.00,266.53 78.50,266.70 79.00,266.86 79.50,267.00 80.00,267.08 80.50,267.00 81.00,266.79 81.50,266.51 82.00,266.37 82.50,266.53 83.00,266.99 83.50,267.54 84.00,268.00 84.50,268.31 85.00,268.52 85.50,268.60 86.00,268.62 86.50,268.63 87.00,268.64 87.50,268.65 88.00,268.66 88.50,268.67 89.00,268.68 89.50,268.69 90.00,268.70 90.50,268.71 91.00,268.72 91.50,268.73 92.00,268.74 92.50,268.75 93.00,268.76 93.50,268.77 94.00,268.78 94.50,268.79 95.00,268.80 95.50,268.81 96.00,268.81 96.50,268.82 97.00,268.83 97.50,268.83 98.00,268.84 98.50,268.85 99.00,268.85 99.50,268.86 100.00,268.87 100.50,268.87 101.00,268.88 101.50,268.89 102.00,268.89 102.50,268.90 103.00,268.91 103.50,268.91 104.00,268.92 104.50,268.93 105.00,268.93 105.50,268.94 106.00,268.95 106.50,268.95 107.00,268.96 107.50,268.97 108.00,268.97 108.50,268.98 109.00,268.99 109.50,268.99 110.00,269.00 110.50,269.01 111.00,269.01 111.50,269.02 112.00,269.03 112.50,269.03 113.00,269.04 113.50,269.05 114.00,269.05 114.50,269.06 115.00,269.07 115.50,269.07 116.00,269.08 116.50,269.09 117.00,269.09 117.50,269.10 118.00,269.10 118.50,269.11 119.00,269.10 119.50,269.08 120.00,269.03 120.50,268.92 121.00,268.76 121.50,268.53 122.00,268.25 122.50,268.00 123.00,267.82 123.50,267.78 124.00,267.89 124.50,268.12 125.00,268.41 125.50,268.68 126.00,268.90 126.50,269.05 127.00,269.15 127.50,269.20 128.00,269.23 128.50,269.24 129.00,269.25 129.50,269.26 130.00,269.27 130.50,269.27 131.00,269.28 131.50,269.29 132.00,269.29 132.50,269.30 133.00,269.31 133.50,269.31 134.00,269.32 134.50,269.33 135.00,269.33 135.50,269.34 136.00,269.35 136.50,269.35 137.00,269.36 137.50,269.37 138.00,269.37 138.50,269.38 139.00,269.39 139.50,269.39 140.00,269.40 140.50,269.41 141.00,269.41 141.50,269.42 142.00,269.43 142.50,269.43 143.00,269.44 143.50,269.45 144.00,269.45 144.50,269.46 145.00,269.47 145.50,269.47 146.00,269.48 146.50,269.49 147.00,269.49 147.50,269.50 148.00,269.51 148.50,269.51 149.00,269.52 149.50,269.53 150.00,269.53 150.50,269.54 151.00,269.55 151.50,269.55 152.00,269.56 152.50,269.57 153.00,269.57 153.50,269.58 154.00,269.59 154.50,269.59 155.00,269.60 155.50,269.61 156.00,269.61 156.50,269.62 157.00,269.63 157.50,269.63 158.00,269.64 158.50,269.65 159.00,269.65 159.50,269.66 160.00,269.67 160.50,269.67 161.00,269.68 161.50,269.69 162.00,269.69 162.50,269.70 163.00,269.71 163.50,269.71 164.00,269.72 164.50,269.73 165.00,269.73 165.50,269.74 166.00,269.75 166.50,269.75 167.00,269.76 167.50,269.77 168.00,269.77 168.50,269.78 169.00,269.79 169.50,269.79 170.00,269.80 170.50,269.80 171.00,269.80 171.50,269.80 172.00,269.80 172.50,269.81 173.00,269.81 173.50,269.79 174.00,269.73 174.50,269.51 175.00,268.89 175.50,267.61 176.00,265.69 176.50,263.82 177.00,263.02 177.50,263.23 178.00,263.82 178.50,264.69 179.00,265.70 179.50,266.71 180.00,267.62 180.50,268.36 181.00,268.91 181.50,269.29 182.00,269.53 182.50,269.68 183.00,269.76 183.50,269.80 184.00,269.82 184.50,269.83 185.00,269.83 185.50,269.84 186.00,269.84 186.50,269.84 187.00,269.84 187.50,269.84 188.00,269.84 188.50,269.85 189.00,269.85 189.50,269.85 190.00,269.85 190.50,269.85 191.00,269.85 191.50,269.85 192.00,269.85 192.50,269.86 193.00,269.86 193.50,269.86 194.00,269.86 194.50,269.86 195.00,269.86 195.50,269.86 196.00,269.86 196.50,269.86 197.00,269.86 197.50,269.85 198.00,269.83 198.50,269.79 199.00,269.72 199.50,269.63 200.00,269.51 200.50,269.39 201.00,269.31 201.50,269.28 202.00,269.31 202.50,269.40 203.00,269.52 203.50,269.64 204.00,269.73 204.50,269.80 205.00,269.85 205.50,269.87 206.00,269.88 206.50,269.89 207.00,269.89 207.50,269.89 208.00,269.89 208.50,269.90 209.00,269.90 209.50,269.90 210.00,269.90 210.50,269.90 211.00,269.90 211.50,269.90 212.00,269.90 212.50,269.90 213.00,269.91 213.50,269.91 214.00,269.91 214.50,269.91 215.00,269.91 215.50,269.91 216.00,269.91 216.50,269.91 217.00,269.92 217.50,269.92 218.00,269.92 218.50,269.92 219.00,269.92 219.50,269.92 220.00,269.92 220.50,269.92 221.00,269.93 221.50,269.93 222.00,269.93 222.50,269.93 223.00,269.93 223.50,269.93 224.00,269.93 224.50,269.93 225.00,269.93 225.50,269.92 226.00,269.86 226.50,269.69 227.00,269.26 227.50,268.41 228.00,267.08 228.50,265.53 229.00,264.30 229.50,263.95 230.00,264.11 230.50,264.46 231.00,264.99 231.50,265.62 232.00,266.31 232.50,267.01 233.00,267.65 233.50,268.23 234.00,268.70 234.50,269.08 235.00,269.37 235.50,269.58 236.00,269.72 236.50,269.82 237.00,269.88 237.50,269.92 238.00,269.94 238.50,269.96 239.00,269.96 239.50,269.97 240.00,269.97 240.50,269.97 241.00,269.98 241.50,269.98 242.00,269.98 242.50,269.98 243.00,269.98 243.50,269.98 244.00,269.98 244.50,269.98 245.00,269.99 245.50,269.99 246.00,269.99 246.50,269.99 247.00,269.99 247.50,269.99 248.00,269.99 248.50,269.99 249.00,270.00 249.50,270.00 250.00,270.00 250.50,270.00 251.00,270.00" fill="none" stroke="#111" stroke-width="1.3" stroke-linejoin="round"/>
<text x="4.4" y="148.9" font-family="Liberation Sans, sans-serif" font-size="8.5" fill="#222" text-anchor="middle">0</text>
<text x="46" y="148.9" font-family="Liberation Sans, sans-serif" font-size="8.5" fill="#222" text-anchor="middle">2</text>
<text x="91.7" y="148.9" font-family="Liberation Sans, sans-serif" font-size="8.5" fill="#222" text-anchor="middle">4</text>
<text x="138.3" y="148.9" font-family="Liberation Sans, sans-serif" font-size="8.5" fill="#222" text-anchor="middle">6</text>
<text x="184.4" y="148.9" font-family="Liberation Sans, sans-serif" font-size="8.5" fill="#222" text-anchor="middle">8</text>
<text x="229" y="148.9" font-family="Liberation Sans, sans-serif" font-size="8.5" fill="#222" text-anchor="middle">10</text>
<text x="3.6" y="287.3" font-family="Liberation Sans, sans-serif" font-size="8.5" fill="#222" text-anchor="middle">0</text>
<text x="34.4" y="287.3" font-family="Liberation Sans, sans-serif" font-size="8.5" fill="#222" text-anchor="middle">2</text>
<text x="70.2" y="287.3" font-family="Liberation Sans, sans-serif" font-size="8.5" fill="#222" text-anchor="middle">4</text>
<text x="104.9" y="287.3" font-family="Liberation Sans, sans-serif" font-size="8.5" fill="#222" text-anchor="middle">6</text>
<text x="139.8" y="287.3" font-family="Liberation Sans, sans-serif" font-size="8.5" fill="#222" text-anchor="middle">8</text>
<text x="174.9" y="287.3" font-family="Liberation Sans, sans-serif" font-size="8.5" fill="#222" text-anchor="middle">10</text>
<text x="209.8" y="287.3" font-family="Liberation Sans, sans-serif" font-size="8.5" fill="#222" text-anchor="middle">12</text>
<text x="243.6" y="287.3" font-family="Liberation Sans, sans-serif" font-size="8.5" fill="#222" text-anchor="middle">14</text>
<text x="177.8" y="14.8" font-family="Liberation Serif, serif" font-weight="bold" font-size="10" fill="#111" stroke="#111" stroke-width="0.2" text-anchor="start">Sis</text>
<text x="194.8" y="26.2" font-family="Liberation Serif, serif" font-weight="bold" font-size="10" fill="#111" stroke="#111" stroke-width="0.2" text-anchor="start">C1a</text>
<text x="119.1" y="161.0" font-family="Liberation Serif, serif" font-weight="bold" font-size="10" fill="#111" stroke="#111" stroke-width="0.2" text-anchor="start">G418</text>
<text x="166.5" y="164.5" font-family="Liberation Serif, serif" font-weight="bold" font-size="7.3" fill="#111" stroke="#111" stroke-width="0.2" text-anchor="start">VerC2a</text>
<text x="185.5" y="157.6" font-family="Liberation Serif, serif" font-weight="bold" font-size="7.3" fill="#111" stroke="#111" stroke-width="0.2" text-anchor="start">VerC2</text>
<text x="209.6" y="159.3" font-family="Liberation Serif, serif" font-weight="bold" font-size="10.3" fill="#111" stroke="#111" stroke-width="0.2" text-anchor="start">Oxo-Ver</text>
<text x="164.2" y="225.8" font-family="Liberation Serif, serif" font-weight="bold" font-size="10" fill="#111" stroke="#111" stroke-width="0.2" text-anchor="start">ZL101</text>
<text x="225.8" y="224.5" font-family="Liberation Serif, serif" font-weight="bold" font-size="10" fill="#111" stroke="#111" stroke-width="0.2" text-anchor="start">C2</text>
<text x="117.3" y="303" font-family="Liberation Serif, serif" font-weight="bold" font-size="11.55" fill="#111" stroke="#111" stroke-width="0.2" text-anchor="start">Time/min</text>
<text x="5.3" y="10.9" font-family="Liberation Serif, serif" font-weight="bold" font-size="21" fill="#111" stroke="#111" stroke-width="0.2" text-anchor="start">a</text>
<text x="265.5" y="16.0" font-family="Liberation Serif, serif" font-weight="bold" font-size="19.8" fill="#111" stroke="#111" stroke-width="0.2" text-anchor="start">b</text>
<rect x="261.50" y="26.5" width="163.90" height="24.50" fill="#E4754E" stroke="#333" stroke-width="0.9"/>
<path d="M414.6,39.05H435.5M414.6,36.25V41.85M435.5,36.25V41.85" fill="none" stroke="rgba(0,0,0,0.62)" stroke-width="1.05"/>
<rect x="261.50" y="57.1" width="228.70" height="24.50" fill="#E4754E" stroke="#333" stroke-width="0.9"/>
<path d="M483.6,69.65H497.1M483.6,66.85V72.45M497.1,66.85V72.45" fill="none" stroke="rgba(0,0,0,0.62)" stroke-width="1.05"/>
<rect x="261.50" y="87.8" width="209.60" height="24.60" fill="#7232AA" stroke="#333" stroke-width="0.9"/>
<path d="M461.3,100.40H481.6M461.3,97.60V103.20M481.6,97.60V103.20" fill="none" stroke="rgba(0,0,0,0.62)" stroke-width="1.05"/>
<rect x="261.50" y="118.5" width="266.00" height="23.80" fill="#7232AA" stroke="#333" stroke-width="0.9"/>
<path d="M513.5,130.70H541.4M513.5,127.90V133.50M541.4,127.90V133.50" fill="none" stroke="rgba(0,0,0,0.62)" stroke-width="1.05"/>
<rect x="261.50" y="149.6" width="103.60" height="24.00" fill="#FE9A33" stroke="#333" stroke-width="0.9"/>
<rect x="365.10" y="149.6" width="27.10" height="24.00" fill="#999937" stroke="#333" stroke-width="0.9"/>
<path d="M347.5,161.90H382.6M347.5,159.10V164.70M382.6,159.10V164.70" fill="none" stroke="rgba(0,0,0,0.62)" stroke-width="1.05"/>
<path d="M389.2,161.90H395.6M389.2,159.10V164.70M395.6,159.10V164.70" fill="none" stroke="rgba(0,0,0,0.62)" stroke-width="1.05"/>
<rect x="261.50" y="180.1" width="123.90" height="24.50" fill="#FE9A33" stroke="#333" stroke-width="0.9"/>
<rect x="385.40" y="180.1" width="44.30" height="24.50" fill="#999937" stroke="#333" stroke-width="0.9"/>
<path d="M375.6,192.65H396.3M375.6,189.85V195.45M396.3,189.85V195.45" fill="none" stroke="rgba(0,0,0,0.62)" stroke-width="1.05"/>
<path d="M418.4,192.65H440.7M418.4,189.85V195.45M440.7,189.85V195.45" fill="none" stroke="rgba(0,0,0,0.62)" stroke-width="1.05"/>
<rect x="261.50" y="210.4" width="139.00" height="24.60" fill="#FF90FF" stroke="#333" stroke-width="0.9"/>
<rect x="400.50" y="210.4" width="41.00" height="24.60" fill="#3BC0A8" stroke="#333" stroke-width="0.9"/>
<path d="M389.4,223.00H412.1M389.4,220.20V225.80M412.1,220.20V225.80" fill="none" stroke="rgba(0,0,0,0.62)" stroke-width="1.05"/>
<path d="M434.4,223.00H449.3M434.4,220.20V225.80M449.3,220.20V225.80" fill="none" stroke="rgba(0,0,0,0.62)" stroke-width="1.05"/>
<rect x="261.50" y="241.4" width="84.70" height="24.30" fill="#FF90FF" stroke="#333" stroke-width="0.9"/>
<rect x="346.20" y="241.4" width="81.10" height="24.30" fill="#3BC0A8" stroke="#333" stroke-width="0.9"/>
<path d="M319.8,253.85H372.5M319.8,251.05V256.65M372.5,251.05V256.65" fill="none" stroke="rgba(0,0,0,0.62)" stroke-width="1.05"/>
<path d="M417.6,253.85H436.4M417.6,251.05V256.65M436.4,251.05V256.65" fill="none" stroke="rgba(0,0,0,0.62)" stroke-width="1.05"/>
<line x1="261.5" y1="22.8" x2="261.5" y2="272.5" stroke="#111" stroke-width="1.2"/>
<line x1="260.9" y1="272" x2="568.9" y2="272" stroke="#111" stroke-width="1.2"/>
<line x1="261.50" y1="272" x2="261.50" y2="277.2" stroke="#111" stroke-width="1.1"/>
<text x="261.50" y="288.2" font-family="Liberation Sans, sans-serif" font-size="9.6" fill="#1a1a1a" text-anchor="middle">0</text>
<line x1="299.86" y1="272" x2="299.86" y2="274.6" stroke="#111" stroke-width="1.1"/>
<line x1="338.23" y1="272" x2="338.23" y2="277.2" stroke="#111" stroke-width="1.1"/>
<text x="338.23" y="288.2" font-family="Liberation Sans, sans-serif" font-size="9.6" fill="#1a1a1a" text-anchor="middle">100</text>
<line x1="376.59" y1="272" x2="376.59" y2="274.6" stroke="#111" stroke-width="1.1"/>
<line x1="414.95" y1="272" x2="414.95" y2="277.2" stroke="#111" stroke-width="1.1"/>
<text x="414.95" y="288.2" font-family="Liberation Sans, sans-serif" font-size="9.6" fill="#1a1a1a" text-anchor="middle">200</text>
<line x1="453.31" y1="272" x2="453.31" y2="274.6" stroke="#111" stroke-width="1.1"/>
<line x1="491.68" y1="272" x2="491.68" y2="277.2" stroke="#111" stroke-width="1.1"/>
<text x="491.68" y="288.2" font-family="Liberation Sans, sans-serif" font-size="9.6" fill="#1a1a1a" text-anchor="middle">300</text>
<line x1="530.04" y1="272" x2="530.04" y2="274.6" stroke="#111" stroke-width="1.1"/>
<line x1="568.40" y1="272" x2="568.40" y2="277.2" stroke="#111" stroke-width="1.1"/>
<text x="568.40" y="288.2" font-family="Liberation Sans, sans-serif" font-size="9.6" fill="#1a1a1a" text-anchor="middle">400</text>
<text x="401.4" y="303.3" font-family="Liberation Serif, serif" font-weight="bold" font-size="11.6" fill="#111" stroke="#111" stroke-width="0.2">Production</text>
<text x="462.3" y="303.3" font-family="Liberation Serif, serif" font-weight="bold" font-size="11.6" fill="#111" stroke="#111" stroke-width="0.2">μg/mL</text>
<text x="549.3" y="43.6" font-family="Liberation Serif, serif" font-weight="bold" font-style="italic" font-size="10.25" fill="#111" stroke="#111" stroke-width="0.2">M. echinospora</text>
<polygon points="618.60,43.20 626.40,43.20 622.50,36.40" fill="none" stroke="#111" stroke-width="1.0"/>
<text x="627.0" y="43.6" font-family="Liberation Serif, serif" font-weight="bold" font-size="10.4" fill="#111" stroke="#111" stroke-width="0.2">KB4L::B3<tspan font-size="6.7" dy="-3.9">WT</tspan></text>
<text x="549.3" y="75.2" font-family="Liberation Serif, serif" font-weight="bold" font-style="italic" font-size="10.25" fill="#111" stroke="#111" stroke-width="0.2">M. echinospora</text>
<polygon points="618.60,74.80 626.40,74.80 622.50,68.00" fill="none" stroke="#111" stroke-width="1.0"/>
<text x="627.0" y="75.2" font-family="Liberation Serif, serif" font-weight="bold" font-size="10.4" fill="#111" stroke="#111" stroke-width="0.2">KB4L::B3<tspan font-size="6.7" dy="-3.9">M1</tspan></text>
<text x="549.3" y="104.5" font-family="Liberation Serif, serif" font-weight="bold" font-style="italic" font-size="10.25" fill="#111" stroke="#111" stroke-width="0.2">M. echinospora</text>
<polygon points="618.60,104.10 626.40,104.10 622.50,97.30" fill="none" stroke="#111" stroke-width="1.0"/>
<text x="627.0" y="104.5" font-family="Liberation Serif, serif" font-weight="bold" font-size="10.4" fill="#111" stroke="#111" stroke-width="0.2">KL::B4<tspan font-size="6.7" dy="-3.9">WT</tspan></text>
<text x="549.3" y="134.7" font-family="Liberation Serif, serif" font-weight="bold" font-style="italic" font-size="10.25" fill="#111" stroke="#111" stroke-width="0.2">M. echinospora</text>
<polygon points="618.60,134.30 626.40,134.30 622.50,127.50" fill="none" stroke="#111" stroke-width="1.0"/>
<text x="627.0" y="134.7" font-family="Liberation Serif, serif" font-weight="bold" font-size="10.4" fill="#111" stroke="#111" stroke-width="0.2">KL::B4<tspan font-size="6.7" dy="-3.9">M1</tspan></text>
<text x="549.3" y="169.0" font-family="Liberation Serif, serif" font-weight="bold" font-style="italic" font-size="10.25" fill="#111" stroke="#111" stroke-width="0.2">M. echinospora</text>
<polygon points="618.60,168.60 626.40,168.60 622.50,161.80" fill="none" stroke="#111" stroke-width="1.0"/>
<text x="627.0" y="169.0" font-family="Liberation Serif, serif" font-weight="bold" font-size="10.4" fill="#111" stroke="#111" stroke-width="0.2">B4::B3<tspan font-size="6.7" dy="-3.9">WT</tspan></text>
<text x="549.3" y="200.3" font-family="Liberation Serif, serif" font-weight="bold" font-style="italic" font-size="10.25" fill="#111" stroke="#111" stroke-width="0.2">M. echinospora</text>
<polygon points="618.60,199.90 626.40,199.90 622.50,193.10" fill="none" stroke="#111" stroke-width="1.0"/>
<text x="627.0" y="200.3" font-family="Liberation Serif, serif" font-weight="bold" font-size="10.4" fill="#111" stroke="#111" stroke-width="0.2">B4::B3<tspan font-size="6.7" dy="-3.9">M2</tspan></text>
<text x="549.3" y="229.6" font-family="Liberation Serif, serif" font-weight="bold" font-style="italic" font-size="10.25" fill="#111" stroke="#111" stroke-width="0.2">M. echinospora</text>
<polygon points="618.60,229.20 626.40,229.20 622.50,222.40" fill="none" stroke="#111" stroke-width="1.0"/>
<text x="627.0" y="229.6" font-family="Liberation Serif, serif" font-weight="bold" font-size="10.4" fill="#111" stroke="#111" stroke-width="0.2">B2L::B4<tspan font-size="6.7" dy="-3.9">WT</tspan></text>
<text x="549.3" y="260.2" font-family="Liberation Serif, serif" font-weight="bold" font-style="italic" font-size="10.25" fill="#111" stroke="#111" stroke-width="0.2">M. echinospora</text>
<polygon points="618.60,259.80 626.40,259.80 622.50,253.00" fill="none" stroke="#111" stroke-width="1.0"/>
<text x="627.0" y="260.2" font-family="Liberation Serif, serif" font-weight="bold" font-size="10.4" fill="#111" stroke="#111" stroke-width="0.2">B2L::B4<tspan font-size="6.7" dy="-3.9">M2</tspan></text>
</svg>
</body></html>
